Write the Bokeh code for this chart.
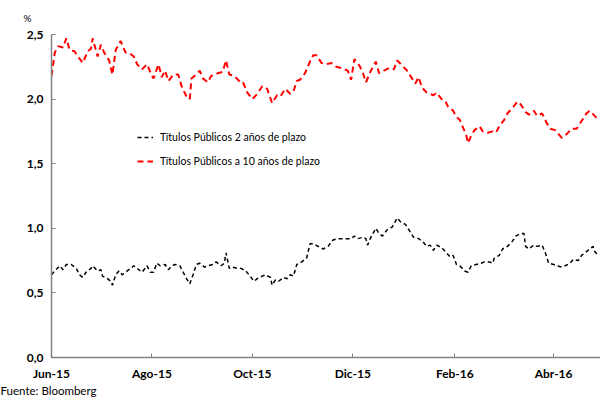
import pandas as pd
from bokeh.plotting import figure
from bokeh.models import (FixedTicker, CustomJSTickFormatter, Legend,
                          LegendItem, Range1d, Title)
from bokeh.embed import file_html
from bokeh.resources import INLINE

# ---------------- data ----------------
start_date = "2015-06-01"
end_days = 333.5  # right end of the axis, days after start_date

series_names = ["Títulos Públicos 2 años de plazo",
                "Títulos Públicos a 10 años de plazo"]

# 10-year bonds (red), days after start_date
red_days = [0, 2, 4, 7, 9, 11, 14, 16, 19, 22, 24, 25, 28, 30, 32, 35, 37, 39, 42, 45,
            47, 50, 52, 55, 58, 61, 62, 65, 67, 69, 71, 74, 77, 79, 82, 84, 85, 88, 90, 92,
            95, 97, 101, 104, 106, 108, 111, 114, 116, 119, 122, 125, 128, 131, 134, 137,
            139, 142, 145, 147, 149, 151, 154, 157, 159, 161, 164, 167, 170, 173, 176, 180,
            182, 184, 187, 189, 191, 194, 197, 199, 202, 205, 208, 210, 213, 216, 218, 221,
            223, 225, 228, 230, 232, 234, 237, 239, 241, 244, 246, 248, 250, 252, 253, 255,
            257, 260, 262, 265, 268, 270, 272, 275, 277, 280, 283, 285, 288, 290, 293, 295,
            298, 301, 303, 306, 308, 310, 313, 316, 319, 322, 325, 327, 330, 332]
red_vals = [2.18, 2.36, 2.41, 2.40, 2.47, 2.38, 2.37, 2.33, 2.28, 2.37, 2.39, 2.47, 2.33,
            2.42, 2.36, 2.30, 2.19, 2.38, 2.45, 2.36, 2.36, 2.33, 2.27, 2.23, 2.27, 2.18,
            2.16, 2.27, 2.17, 2.22, 2.14, 2.19, 2.19, 2.10, 2.02, 2.00, 2.16, 2.19, 2.22,
            2.16, 2.13, 2.18, 2.20, 2.21, 2.30, 2.19, 2.18, 2.14, 2.14, 2.05, 2.00, 2.04,
            2.10, 2.08, 1.97, 2.03, 2.02, 2.08, 2.04, 2.06, 2.14, 2.15, 2.20, 2.29, 2.34,
            2.34, 2.28, 2.27, 2.28, 2.25, 2.24, 2.22, 2.15, 2.31, 2.26, 2.21, 2.13, 2.22,
            2.29, 2.20, 2.22, 2.24, 2.23, 2.30, 2.26, 2.22, 2.18, 2.12, 2.17, 2.09, 2.05,
            2.04, 2.03, 2.05, 2.00, 1.99, 1.94, 1.91, 1.86, 1.84, 1.78, 1.72, 1.66, 1.72,
            1.76, 1.79, 1.75, 1.74, 1.75, 1.74, 1.79, 1.84, 1.89, 1.93, 1.98, 1.96, 1.90,
            1.88, 1.91, 1.87, 1.89, 1.81, 1.77, 1.76, 1.73, 1.70, 1.73, 1.77, 1.77, 1.83,
            1.89, 1.91, 1.87, 1.84]

# 2-year bonds (black), days after start_date
black_days = [0, 2, 5, 7, 9, 12, 15, 17, 19, 21, 24, 25, 28, 30, 31, 34, 36, 37, 39, 41,
              43, 45, 48, 50, 52, 55, 58, 60, 62, 64, 66, 69, 71, 73, 75, 78, 80, 82, 84,
              86, 88, 90, 93, 95, 98, 100, 103, 105, 106, 108, 110, 113, 115, 118, 120,
              123, 125, 128, 130, 133, 134, 136, 138, 141, 143, 145, 147, 149, 152, 155,
              157, 159, 162, 165, 168, 171, 174, 177, 180, 182, 184, 186, 189, 191, 192,
              194, 197, 199, 201, 204, 207, 210, 212, 215, 218, 220, 223, 226, 228, 230,
              232, 234, 237, 240, 242, 244, 246, 248, 251, 253, 255, 258, 261, 263, 266,
              268, 269, 272, 274, 277, 280, 282, 285, 287, 288, 290, 293, 295, 298, 300,
              302, 305, 307, 310, 312, 315, 317, 320, 322, 325, 327, 329, 330, 332]
black_vals = [0.64, 0.67, 0.71, 0.68, 0.72, 0.72, 0.69, 0.64, 0.62, 0.66, 0.69, 0.71, 0.67,
              0.68, 0.63, 0.61, 0.59, 0.56, 0.64, 0.67, 0.64, 0.66, 0.69, 0.71, 0.69, 0.66,
              0.71, 0.66, 0.66, 0.73, 0.71, 0.72, 0.68, 0.71, 0.72, 0.71, 0.66, 0.61, 0.57,
              0.64, 0.72, 0.73, 0.70, 0.71, 0.72, 0.74, 0.71, 0.73, 0.81, 0.69, 0.70, 0.69,
              0.69, 0.67, 0.64, 0.59, 0.61, 0.63, 0.64, 0.62, 0.56, 0.60, 0.59, 0.62, 0.61,
              0.64, 0.63, 0.72, 0.74, 0.77, 0.88, 0.88, 0.86, 0.84, 0.86, 0.91, 0.92, 0.92,
              0.92, 0.92, 0.94, 0.92, 0.93, 0.92, 0.87, 0.93, 1.00, 0.96, 0.94, 0.99, 1.01,
              1.08, 1.05, 1.03, 0.97, 0.93, 0.92, 0.89, 0.86, 0.87, 0.83, 0.87, 0.85, 0.81,
              0.78, 0.79, 0.72, 0.71, 0.67, 0.66, 0.71, 0.72, 0.73, 0.74, 0.74, 0.73, 0.77,
              0.79, 0.84, 0.86, 0.90, 0.94, 0.96, 0.96, 0.86, 0.84, 0.87, 0.86, 0.87, 0.81,
              0.73, 0.72, 0.71, 0.70, 0.71, 0.73, 0.76, 0.75, 0.79, 0.82, 0.84, 0.86, 0.82,
              0.79]

tick_dates = ["2015-06-01", "2015-08-01", "2015-10-01", "2015-12-01", "2016-02-01", "2016-04-01"]
tick_labels = ["Jun-15", "Ago-15", "Oct-15", "Dic-15", "Feb-16", "Abr-16"]
y_ticks = [0.0, 0.5, 1.0, 1.5, 2.0, 2.5]
unit_text = "%"
source_text = "Fuente: Bloomberg"

# ---------------- build ----------------
t0 = pd.Timestamp(start_date)
red_x = t0 + pd.to_timedelta(red_days, unit="D")
black_x = t0 + pd.to_timedelta(black_days, unit="D")
x_end = t0 + pd.Timedelta(days=end_days)

FONT = "Lato"
AXIS_COLOR = "#808080"
W, H = 600, 398

p = figure(width=W, height=H, x_axis_type="datetime",
           output_backend="svg", toolbar_location=None,
           x_range=Range1d(t0, x_end), y_range=Range1d(0, 2.5),
           min_border_left=51, min_border_right=0,
           min_border_top=34, min_border_bottom=38)
p.outline_line_color = None
p.xgrid.visible = False
p.ygrid.visible = False
p.background_fill_color = "white"
p.border_fill_color = "white"

r_black = p.line(black_x, black_vals, line_color="black", line_width=1.5,
                 line_dash="4 3")
r_red = p.line(red_x, red_vals, line_color="#ff0000", line_width=2,
               line_dash="6 4")

# axes
tick_ms = [int(pd.Timestamp(d).value // 10**6) for d in tick_dates]
p.xaxis.ticker = FixedTicker(ticks=tick_ms)
p.xaxis.major_label_overrides = dict(zip(tick_ms, tick_labels))
p.yaxis.ticker = FixedTicker(ticks=y_ticks)
p.yaxis.formatter = CustomJSTickFormatter(code="return tick.toFixed(1).replace('.', ',');")

for ax in (p.xaxis, p.yaxis):
    ax.axis_line_color = AXIS_COLOR
    ax.axis_line_width = 1.5
    ax.major_tick_line_color = AXIS_COLOR
    ax.major_tick_line_width = 1
    ax.major_tick_in = 4
    ax.major_tick_out = 0
    ax.minor_tick_line_color = None
    ax.major_label_text_font = FONT
    ax.major_label_text_font_style = "bold"
    ax.major_label_text_font_size = "12px"
    ax.major_label_text_color = "black"
p.xaxis.major_label_standoff = 8
p.yaxis.major_label_standoff = 8

legend = Legend(items=[LegendItem(label=series_names[0], renderers=[r_black]),
                       LegendItem(label=series_names[1], renderers=[r_red])],
                location=(86, 186), orientation="vertical")
legend.border_line_color = None
legend.background_fill_alpha = 0
legend.padding = 0
legend.margin = 0
legend.spacing = 4
legend.glyph_width = 16
legend.glyph_height = 20
legend.label_height = 20
legend.label_standoff = 7
legend.label_text_font = FONT
legend.label_text_font_size = "10.5px"
legend.label_text_color = "black"
p.add_layout(legend)

# "%" unit note above the axis, source note below
p.add_layout(Title(text=unit_text, align="left", offset=-28, vertical_align="top",
                   standoff=18, text_font=FONT, text_font_size="10px",
                   text_font_style="normal", text_color="black"), "above")
p.add_layout(Title(text=source_text, align="left", offset=-51, vertical_align="top",
                   standoff=0, text_font=FONT, text_font_size="11.5px",
                   text_font_style="normal", text_color="black"), "below")

open("out.html", "w").write(file_html(p, INLINE))
